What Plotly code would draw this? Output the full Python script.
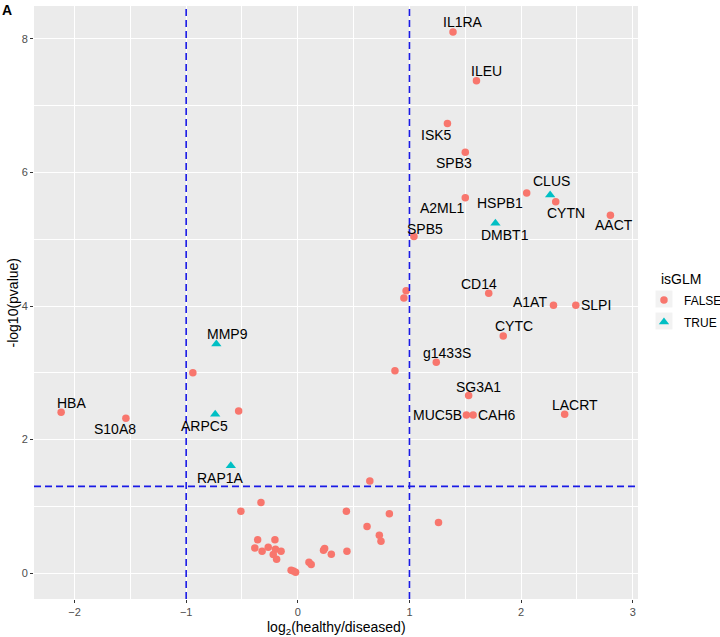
import plotly.graph_objects as go
import math

# ---------------- data ----------------
labels = ["IL1RA", "ILEU", "ISK5", "SPB3", "A2ML1", "HSPB1", "CLUS", "CYTN", "AACT",
          "DMBT1", "SPB5", "CD14", "A1AT", "SLPI", "CYTC", "g1433S", "SG3A1", "MUC5B",
          "CAH6", "LACRT", "MMP9", "HBA", "S10A8", "ARPC5", "RAP1A"]
label_log2fc = [1.39, 1.60, 1.34, 1.50, 1.50, 2.05, 2.26, 2.31, 2.80,
                1.77, 1.04, 1.71, 2.29, 2.49, 1.84, 1.24, 1.53, 1.51,
                1.57, 2.39, -0.73, -2.12, -1.54, -0.74, -0.60]
label_neglogp = [8.10, 7.37, 6.73, 6.30, 5.62, 5.69, 5.66, 5.56, 5.36,
                 5.24, 5.04, 4.19, 4.01, 4.01, 3.55, 3.16, 2.66, 2.37,
                 2.37, 2.38, 3.43, 2.41, 2.32, 2.38, 1.61]
label_isglm = [False, False, False, False, False, False, True, False, False,
               True, False, False, False, False, False, False, False, False,
               False, False, True, False, False, True, True]

other_log2fc = [0.97, 0.95, 0.87, -0.94, -0.53, 0.645, 0.82, 1.26, 0.62, 0.73, 0.745,
                -0.33, -0.51, 0.435, -0.36, -0.205, -0.385, -0.32, -0.265, -0.20,
                -0.15, -0.22, -0.19, -0.06, -0.04, -0.02, 0.10, 0.12, 0.23, 0.24,
                0.30, 0.44]
other_neglogp = [4.23, 4.12, 3.03, 3.00, 2.43, 1.38, 0.89, 0.76, 0.70, 0.57, 0.48,
                 1.06, 0.93, 0.93, 0.50, 0.50, 0.38, 0.33, 0.39, 0.36,
                 0.33, 0.28, 0.21, 0.045, 0.035, 0.015, 0.165, 0.13, 0.345, 0.37,
                 0.285, 0.33]

x_ticks = [-2, -1, 0, 1, 2, 3]
x_ticktext = ["\u22122", "\u22121", "0", "1", "2", "3"]
y_ticks = [0, 2, 4, 6, 8]
fc_cut = 1
p_cut = 0.05

# label offsets in pixels (style): (xshift, yshift)
label_shift = [(10, 10), (10, 10), (-11, -11), (-11, -11), (-23, -10), (-27, -10),
               (1, 14), (10, -11), (4, -10), (10, -12), (11, 8), (-10, 9),
               (-23, 3), (20, 0), (11, 10), (11, 9), (10, 9), (-29, 0),
               (24, 0), (10, 9), (11, 10), (10, 9), (-11, -11), (-11, -12), (-10, -12)]

p_line = -math.log10(p_cut)

RED = "#F8766D"
TEAL = "#00BFC4"
FONT = "Liberation Sans"

all_x = label_log2fc + other_log2fc
all_y = label_neglogp + other_neglogp
all_g = label_isglm + [False] * len(other_log2fc)

fx = [x for x, g in zip(all_x, all_g) if not g]
fy = [y for y, g in zip(all_y, all_g) if not g]
tx = [x for x, g in zip(all_x, all_g) if g]
ty = [y for y, g in zip(all_y, all_g) if g]

fig = go.Figure()
fig.add_trace(go.Scatter(x=fx, y=fy, mode="markers", name="FALSE", legendgroup="f",
                         marker=dict(symbol="circle", size=7.5, color=RED)))
fig.add_trace(go.Scatter(x=tx, y=ty, mode="markers", name="TRUE", legendgroup="t",
                         marker=dict(symbol="triangle-up", size=9, color=TEAL)))

for lab, x, y, (dx, dy) in zip(labels, label_log2fc, label_neglogp, label_shift):
    fig.add_annotation(x=x, y=y, text=lab, showarrow=False, xshift=dx, yshift=dy,
                       xanchor="center", yanchor="middle",
                       font=dict(family=FONT, size=14, color="black"))

dash = "7px,4px"
for xv in (-fc_cut, fc_cut):
    fig.add_shape(type="line", xref="x", yref="paper", x0=xv, x1=xv, y0=0, y1=1,
                  line=dict(color="#1a1ae6", width=1.6, dash=dash))
fig.add_shape(type="line", xref="paper", yref="y", x0=0, x1=1, y0=p_line, y1=p_line,
              line=dict(color="#1a1ae6", width=1.6, dash=dash))

# legend key backgrounds
for y0, y1 in ((0.4916, 0.5202), (0.4545, 0.4831)):
    fig.add_shape(type="rect", xref="paper", yref="paper", x0=1.029, x1=1.057,
                  y0=y0, y1=y1, fillcolor="#F2F2F2", line=dict(width=0), layer="below")

fig.add_annotation(xref="paper", yref="paper", x=1.034, y=0.5202, yshift=12,
                   text="isGLM", showarrow=False, xanchor="left", yanchor="middle",
                   font=dict(family=FONT, size=14, color="black"))
fig.add_annotation(xref="paper", yref="paper", x=0.5, y=0, yshift=-29,
                   text="log<sub>2</sub>(healthy/diseased)", showarrow=False,
                   xanchor="center", yanchor="middle",
                   font=dict(family=FONT, size=14, color="black"))
fig.add_annotation(xref="paper", yref="paper", x=0, xshift=-22, y=0.5,
                   text="-log10(pvalue)", showarrow=False, textangle=-90,
                   xanchor="center", yanchor="middle",
                   font=dict(family=FONT, size=14, color="black"))
fig.add_annotation(xref="paper", yref="paper", x=0, xshift=-34, y=1, yshift=6,
                   text="<b>A</b>", showarrow=False, xanchor="left", yanchor="top",
                   font=dict(family=FONT, size=14, color="black"))

axis_common = dict(showgrid=True, gridcolor="white", gridwidth=1.2, zeroline=False,
                   ticks="outside", ticklen=3, tickcolor="#333333", tickwidth=1,
                   tickfont=dict(family=FONT, size=11, color="#4D4D4D"),
                   showline=False, automargin=False)
fig.update_xaxes(range=[-2.363, 3.047], tickvals=x_ticks, ticktext=x_ticktext,
                 minor=dict(dtick=0.5, tick0=0.5, gridcolor="white", gridwidth=0.6,
                            showgrid=True, ticks=""), **axis_common)
fig.update_yaxes(range=[-0.385, 8.49], tickvals=y_ticks,
                 minor=dict(dtick=1, tick0=1, gridcolor="white", gridwidth=0.6,
                            showgrid=True, ticks=""), **axis_common)

fig.update_layout(
    width=720, height=637,
    margin=dict(l=34, r=82, t=6, b=38),
    plot_bgcolor="#EBEBEB", paper_bgcolor="white",
    font=dict(family=FONT, size=12, color="black"),
    showlegend=True,
    legend=dict(xref="container", yref="container",
                x=0.8944, y=0.5518, xanchor="left", yanchor="top",
                font=dict(family=FONT, size=12), bgcolor="rgba(0,0,0,0)",
                tracegroupgap=3),
)

fig.write_html("out.html", config={"displayModeBar": False},
               post_script="document.body.style.margin='0';document.body.style.overflow='hidden';")
